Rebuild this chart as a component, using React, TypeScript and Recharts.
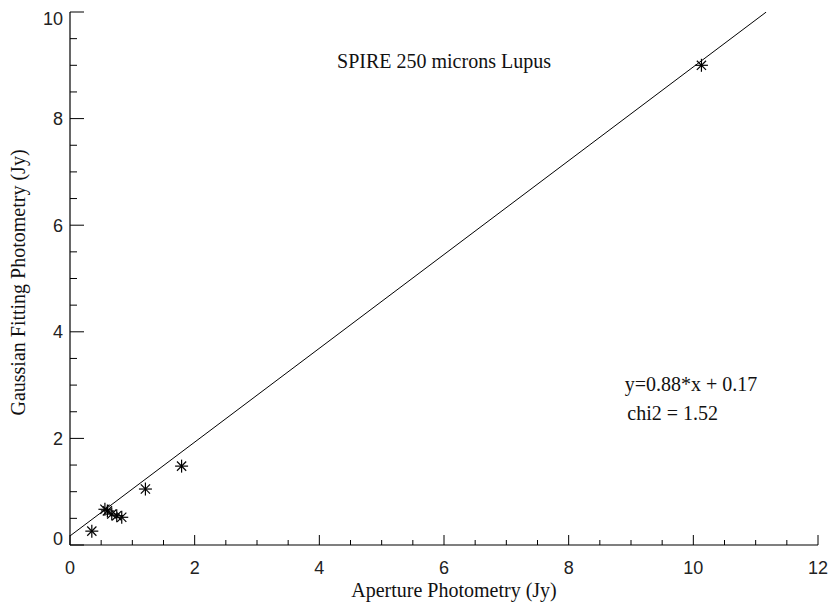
import React from 'react';
import { ScatterChart, Scatter, XAxis, YAxis, ReferenceDot } from 'recharts';

// Aperture photometry (x, Jy) vs Gaussian fitting photometry (y, Jy)
const apertureFlux = [0.35, 0.56, 0.6, 0.67, 0.75, 0.83, 1.21, 1.79, 10.13];
const gaussianFlux = [0.26, 0.67, 0.64, 0.58, 0.55, 0.52, 1.05, 1.48, 9.0];

// Fitted line y = 0.88*x + 0.17, end points as drawn
const fitX = [0, 11.17];
const fitY = [0.17, 10];

const xTicks = [0, 0.5, 1, 1.5, 2, 2.5, 3, 3.5, 4, 4.5, 5, 5.5, 6, 6.5, 7, 7.5, 8, 8.5, 9, 9.5, 10, 10.5, 11, 11.5, 12];
const yTicks = [0, 0.5, 1, 1.5, 2, 2.5, 3, 3.5, 4, 4.5, 5, 5.5, 6, 6.5, 7, 7.5, 8, 8.5, 9, 9.5, 10];
const xLabels = [0, 2, 4, 6, 8, 10, 12];
const yLabels = [0, 2, 4, 6, 8, 10];

const title = 'SPIRE 250 microns Lupus';
const fitText = 'y=0.88*x + 0.17';
const chiText = 'chi2 = 1.52';
const xTitle = 'Aperture Photometry (Jy)';
const yTitle = 'Gaussian Fitting Photometry (Jy)';

const points = apertureFlux.map((x, i) => ({ x, y: gaussianFlux[i] }));
const fitLine = fitX.map((x, i) => ({ x, y: fitY[i] }));

const SERIF = '"Liberation Serif", "DejaVu Serif", serif';
const SANS = '"Liberation Sans", Arial, sans-serif';

const Star = (props: any) => {
  const { cx, cy } = props;
  if (cx == null || cy == null) return null;
  const r = 6.5;
  const d = r * 0.707;
  return (
    <g stroke="#000" strokeWidth={1.2}>
      <line x1={cx - r} y1={cy} x2={cx + r} y2={cy} />
      <line x1={cx} y1={cy - r} x2={cx} y2={cy + r} />
      <line x1={cx - d} y1={cy - d} x2={cx + d} y2={cy + d} />
      <line x1={cx - d} y1={cy + d} x2={cx + d} y2={cy - d} />
    </g>
  );
};

const NoShape = () => <g />;

const BottomTick = (props: any) => {
  const { x, y, payload } = props;
  const v = payload.value;
  const major = xLabels.includes(v);
  return (
    <g>
      <line x1={x} y1={y} x2={x} y2={y - (major ? 10 : 5)} stroke="#000" strokeWidth={1} />
      {major && (
        <text x={x} y={y + 29} textAnchor="middle" fontFamily={SANS} fontSize={18} fill="#222">
          {v}
        </text>
      )}
    </g>
  );
};

const TopTick = (props: any) => {
  const { x, y, payload } = props;
  const major = xLabels.includes(payload.value);
  return <line x1={x} y1={y} x2={x} y2={y + (major ? 11 : 5)} stroke="#000" strokeWidth={1} />;
};

const LeftTick = (props: any) => {
  const { x, y, payload } = props;
  const v = payload.value;
  const major = yLabels.includes(v);
  let ty = y + 6.5;
  if (v === 10) ty = y + 13;
  if (v === 0) ty = y;
  return (
    <g>
      <line x1={x} y1={y} x2={x + (major ? 14 : 7)} y2={y} stroke="#000" strokeWidth={1} />
      {major && (
        <text x={x - 7} y={ty} textAnchor="end" fontFamily={SANS} fontSize={18} fill="#222">
          {v}
        </text>
      )}
    </g>
  );
};

const RightTick = (props: any) => {
  const { x, y, payload } = props;
  const major = yLabels.includes(payload.value);
  return <line x1={x} y1={y} x2={x - (major ? 14 : 7)} y2={y} stroke="#000" strokeWidth={1} />;
};

const XTitle = (props: any) => {
  const vb = props.viewBox || { x: 70, y: 545, width: 748, height: 60 };
  return (
    <text x={vb.x + vb.width / 2 + 10} y={vb.y + 52} textAnchor="middle" fontFamily={SERIF} fontSize={20} fill="#111">
      {xTitle}
    </text>
  );
};

const YTitle = (props: any) => {
  const vb = props.viewBox || { x: 0, y: 12, width: 70, height: 533 };
  const cx = vb.x + 25;
  const cy = vb.y + vb.height / 2 + 4;
  return (
    <text x={cx} y={cy} transform={`rotate(-90, ${cx}, ${cy})`} textAnchor="middle" fontFamily={SERIF} fontSize={20} fill="#111">
      {yTitle}
    </text>
  );
};

const makeText = (text: string, anchor: 'start' | 'middle') => (props: any) => {
  const vb = props.viewBox || { x: 0, y: 0 };
  return (
    <text x={vb.x} y={vb.y} textAnchor={anchor} fontFamily={SERIF} fontSize={20} fill="#111">
      {text}
    </text>
  );
};

export default function App() {
  return (
    <div style={{ position: 'absolute', left: 0, top: 0, width: 833, height: 605, background: '#fff' }}>
      <ScatterChart width={833} height={605} margin={{ top: 12, right: 15, left: 0, bottom: 0 }}>
        <XAxis
          xAxisId="b"
          type="number"
          dataKey="x"
          domain={[0, 12]}
          ticks={xTicks}
          interval={0}
          allowDataOverflow
          tick={<BottomTick />}
          tickLine={false}
          tickSize={0}
          tickMargin={0}
          height={60}
          axisLine={{ stroke: '#000', strokeWidth: 1.2 }}
          label={<XTitleWrap />}
        />
        <XAxis
          xAxisId="t"
          orientation="top"
          type="number"
          domain={[0, 12]}
          ticks={xTicks}
          interval={0}
          allowDataOverflow
          tick={<TopTick />}
          tickLine={false}
          tickSize={0}
          tickMargin={0}
          height={0}
          axisLine={{ stroke: '#000', strokeWidth: 1.2 }}
        />
        <YAxis
          yAxisId="l"
          type="number"
          dataKey="y"
          domain={[0, 10]}
          ticks={yTicks}
          interval={0}
          allowDataOverflow
          tick={<LeftTick />}
          tickLine={false}
          tickSize={0}
          tickMargin={0}
          width={70}
          axisLine={{ stroke: '#000', strokeWidth: 1.2 }}
          label={<YTitleWrap />}
        />
        <YAxis
          yAxisId="r"
          orientation="right"
          type="number"
          domain={[0, 10]}
          ticks={yTicks}
          interval={0}
          allowDataOverflow
          tick={<RightTick />}
          tickLine={false}
          tickSize={0}
          tickMargin={0}
          width={0}
          axisLine={{ stroke: '#000', strokeWidth: 1.2 }}
        />
        <Scatter
          xAxisId="b"
          yAxisId="l"
          data={fitLine}
          line={{ stroke: '#000', strokeWidth: 1 }}
          lineType="joint"
          shape={<NoShape />}
          isAnimationActive={false}
        />
        <Scatter xAxisId="b" yAxisId="l" data={points} shape={<Star />} isAnimationActive={false} />
        <ReferenceDot xAxisId="b" yAxisId="l" x={6.0} y={8.95} r={0} fill="none" stroke="none" label={makeText(title, 'middle')} />
        <ReferenceDot xAxisId="b" yAxisId="l" x={8.9} y={2.89} r={0} fill="none" stroke="none" label={makeText(fitText, 'start')} />
        <ReferenceDot xAxisId="b" yAxisId="l" x={8.94} y={2.345} r={0} fill="none" stroke="none" label={makeText(chiText, 'start')} />
      </ScatterChart>
    </div>
  );
}

function XTitleWrap(props: any) {
  return <XTitle {...props} />;
}

function YTitleWrap(props: any) {
  return <YTitle {...props} />;
}
